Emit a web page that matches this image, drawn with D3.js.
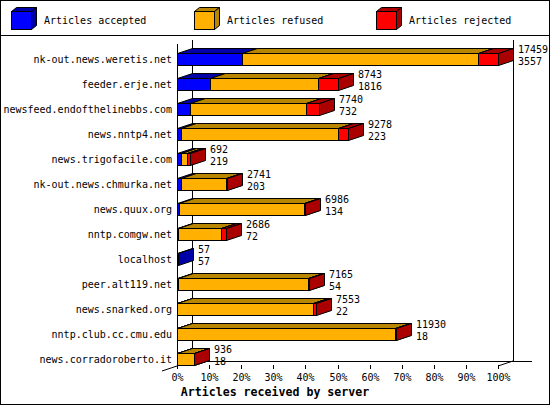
<!DOCTYPE html>
<html><head><meta charset="utf-8">
<script src="https://cdn.jsdelivr.net/npm/d3@7"></script>
<style>body{margin:0;background:#fff}svg{display:block}text{font-family:"DejaVu Sans Mono",monospace;}</style>
</head><body><svg id="c" width="550" height="405"></svg>
<script>
const servers = ["nk-out.news.weretis.net","feeder.erje.net","newsfeed.endofthelinebbs.com","news.nntp4.net","news.trigofacile.com","nk-out.news.chmurka.net","news.quux.org","nntp.comgw.net","localhost","peer.alt119.net","news.snarked.org","nntp.club.cc.cmu.edu","news.corradoroberto.it"];
const totals   = [17459, 8743, 7740, 9278, 692, 2741, 6986, 2686, 57, 7165, 7553, 11930, 936];
const accepted = [3557, 1816, 732, 223, 219, 203, 134, 72, 57, 54, 22, 18, 18];
const refused  = [12830, 5870, 6268, 8553, 350, 2470, 6792, 2304, 0, 7061, 7391, 11842, 903];
const rejected = [1072, 1057, 740, 502, 123, 68, 60, 310, 0, 50, 140, 70, 15];
const seriesNames = ["Articles accepted","Articles refused","Articles rejected"];
const tickValues = [0,10,20,30,40,50,60,70,80,90,100];
const tickLabels = ["0%","10%","20%","30%","40%","50%","60%","70%","80%","90%","100%"];
const xTitle = "Articles received by server";

const front = ["#0000ff","#ffb000","#ff0000"];
const shade = ["#0000a8","#b88600","#aa0000"];
const DX = 15, DY = 5;

const svg = d3.select("#c");
svg.append("rect").attr("x",0.5).attr("y",0.5).attr("width",549).attr("height",404).attr("fill","#fff").attr("stroke","#000");
svg.append("line").attr("x1",0).attr("x2",550).attr("y1",35.5).attr("y2",35.5).attr("stroke","#000");

// legend
const lg = svg.append("g");
seriesNames.forEach((n,i)=>{
  const bx = 11 + i*182.5;
  const g = lg.append("g").attr("transform",`translate(${Math.round(bx)},0)`);
  const x0=0.5,x1=20.5,y0=11.5,y1=29.5,d=5,dy=4;
  g.append("path").attr("d",`M${x0},${y0}L${x0+d},${y0-dy}L${x1+d},${y0-dy}L${x1},${y0}Z`).attr("fill",shade[i]).attr("stroke","#000");
  g.append("path").attr("d",`M${x1},${y0}L${x1+d},${y0-dy}L${x1+d},${y1-dy}L${x1},${y1}Z`).attr("fill",shade[i]).attr("stroke","#000");
  g.append("rect").attr("x",x0).attr("y",y0).attr("width",x1-x0).attr("height",y1-y0).attr("fill",front[i]).attr("stroke","#000");
  g.append("text").attr("x",33).attr("y",20).attr("dominant-baseline","central").attr("font-size",10).text(n);
});

const maxTotal = d3.max(totals);
const x = d3.scaleLinear().domain([0,100]).range([177,498]);
const y = d3.scaleBand().domain(servers).range([46.5,371.5]);
const pct = v => v/maxTotal*100;

// axes
const ax = svg.append("g").attr("stroke","#000").attr("fill","none");
const L = (x1,y1,x2,y2)=>ax.append("line").attr("x1",x1).attr("y1",y1).attr("x2",x2).attr("y2",y2);
L(x(0)+0.5,44,x(0)+0.5,368);
L(x(0)+DX+0.5,40,x(0)+DX+0.5,361);
L(x(100)+DX+0.5,40,x(100)+DX+0.5,361);
L(x(0)+DX,361.5,532,361.5);
L(x(0)-DX,371,x(0)+DX,361);
L(x(100),366,x(100)+DX,361);
tickValues.forEach(t=>L(Math.round(x(t))+0.5,365,Math.round(x(t))+0.5,369));

svg.append("g").selectAll("text").data(tickValues).join("text")
  .attr("x",d=>Math.round(x(d))+0.5).attr("y",377).attr("text-anchor","middle").attr("dominant-baseline","central")
  .attr("font-size",10).text((d,i)=>tickLabels[i]);
svg.append("text").attr("x",275).attr("y",392).attr("text-anchor","middle").attr("dominant-baseline","central")
  .attr("font-size",11.6).attr("font-weight","bold").text(xTitle);

// category labels
svg.append("g").selectAll("text").data(servers).join("text")
  .attr("x",172).attr("y",d=>y(d)+y.bandwidth()/2).attr("text-anchor","end").attr("dominant-baseline","central")
  .attr("font-size",10).text(d=>d);

// bars
const bars = svg.append("g");
servers.forEach((s,i)=>{
  const c = Math.round(y(s)+y.bandwidth()/2);
  const y0 = c-6+0.5, y1 = c+6+0.5;
  const vals = [accepted[i],refused[i],rejected[i]];
  let cum = 0;
  vals.forEach((v,k)=>{
    if(v<=0) return;
    const xa = Math.round(x(pct(cum)))+0.5;
    cum += v;
    const xb = Math.round(x(pct(cum)))+0.5;
    bars.append("rect").attr("x",xa).attr("y",y0).attr("width",xb-xa).attr("height",y1-y0).attr("fill",front[k]).attr("stroke","#000");
    bars.append("path").attr("d",`M${xa},${y0}L${xa+DX},${y0-DY}L${xb+DX},${y0-DY}L${xb},${y0}Z`).attr("fill",shade[k]).attr("stroke","#000");
    bars.append("path").attr("d",`M${xb},${y0}L${xb+DX},${y0-DY}L${xb+DX},${y1-DY}L${xb},${y1}Z`).attr("fill",shade[k]).attr("stroke","#000");
  });
  const lx = Math.round(x(pct(totals[i])))+DX+5;
  bars.append("text").attr("x",lx).attr("y",c-10).attr("dominant-baseline","central").attr("font-size",10).text(totals[i]);
  bars.append("text").attr("x",lx).attr("y",c+2).attr("dominant-baseline","central").attr("font-size",10).text(accepted[i]);
});
</script></body></html>
